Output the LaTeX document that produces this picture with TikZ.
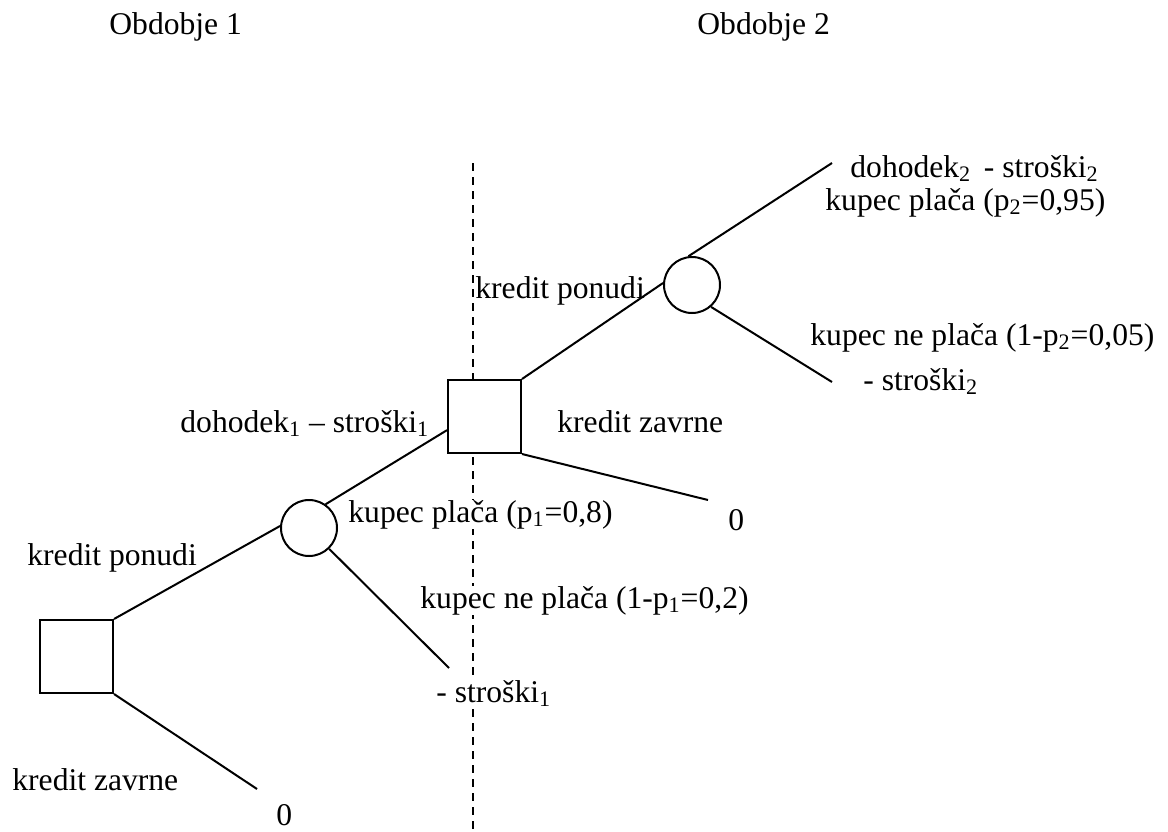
\documentclass[tikz,border=0pt]{standalone}
\usepackage{fontspec}
\setmainfont{Liberation Serif}
\begin{document}
\begin{tikzpicture}[x=0.5pt,y=-0.5pt,
  lbl/.style={font=\fontsize{15.8}{19}\selectfont, inner sep=0pt, anchor=base west},
  wlbl/.style={lbl, fill=white},
  dec/.style={draw, line width=1pt, fill=white, rectangle, minimum size=36.5pt, inner sep=0pt},
  chance/.style={draw, line width=1pt, fill=white, circle, minimum size=28pt, inner sep=0pt},
  br/.style={line width=1pt},
  sep/.style={line width=1pt, dash pattern=on 4pt off 3pt}]
\useasboundingbox (0,0) rectangle (1168,831);
% period separator
\coordinate (dtop) at (473,163);
\coordinate (dbot) at (473,840);
\draw[sep] (dtop) -- (dbot);
% headings
\node[lbl] (h1) at (109,34) {Obdobje 1};
\node[lbl] (h2) at (697,34) {Obdobje 2};
% decision and chance nodes
\node[dec] (sq1) at (76.5,656.5) {};
\node[chance] (c1) at (309,528) {};
\node[dec] (sq2) at (484.5,416.5) {};
\node[chance] (c2) at (692,285) {};
% free ends
\coordinate (e0) at (257,789);
\coordinate (e1) at (449,668);
\coordinate (e2) at (708,500);
\coordinate (e3) at (832,163);
\coordinate (e4) at (832,382);
% labels
\node[lbl] (l1) at (850,177) {dohodek\textsubscript{2}\hspace{0.15em} - stroški\textsubscript{2}};
\node[lbl] (l2) at (825,210) {kupec plača (p\textsubscript{2}=0,95)};
\node[lbl] (l3) at (475,298) {kredit ponudi};
\node[lbl] (l4) at (810,345) {kupec ne plača (1-p\textsubscript{2}=0,05)};
\node[lbl] (l5) at (863,390) {- stroški\textsubscript{2}};
\node[lbl] (l6) at (180,432) {dohodek\textsubscript{1} – stroški\textsubscript{1}};
\node[lbl] (l7) at (557,432) {kredit zavrne};
\node[lbl] (l8) at (728,530) {0};
\node[wlbl] (l9) at (348,522) {kupec plača (p\textsubscript{1}=0,8)};
\node[lbl] (l10) at (27,565) {kredit ponudi};
\node[wlbl] (l11) at (420,608) {kupec ne plača (1-p\textsubscript{1}=0,2)};
\node[wlbl] (l12) at (436,702) {- stroški\textsubscript{1}};
\node[lbl] (l13) at (12,790) {kredit zavrne};
\node[lbl] (l14) at (276,825) {0};
% branches
\draw[br] (sq1.north east) -- (c1.176);
\draw[br] (sq1.south east) -- (e0);
\draw[br] (c1.55) -- (sq2.200);
\draw[br] (c1.-46) -- (e1);
\draw[br] (sq2.north east) -- (c2.176);
\draw[br] (sq2.south east) -- (e2);
\draw[br] (c2.97) -- (e3);
\draw[br] (c2.-49) -- (e4);
\end{tikzpicture}
\end{document}
